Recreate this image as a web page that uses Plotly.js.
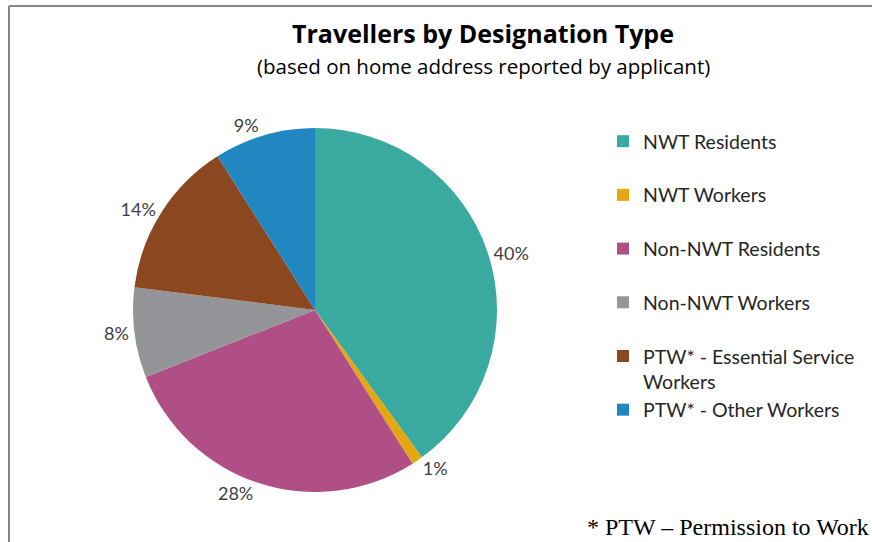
<!DOCTYPE html>
<html>
<head>
<meta charset="utf-8">
<script src="https://cdn.plot.ly/plotly-3.0.1.min.js"></script>
<style>html,body{margin:0;padding:0;background:#fff;}#chart{width:872px;height:542px;}</style>
</head>
<body>
<div id="chart"></div>
<script>
const categories = ["NWT Residents", "NWT Workers", "Non-NWT Residents", "Non-NWT Workers", "PTW* - Essential Service<br>Workers", "PTW* - Other Workers"];
const shares = [40, 1, 28, 8, 14, 9];
const colors = ["#3AA99F", "#E2A711", "#B04F86", "#939598", "#8B4720", "#2187C0"];

const legendLabels = categories.map(c => c.indexOf("<br>") >= 0 ? c : c + "<br>&nbsp;");

const W = 872, H = 542;
const cx = 315, cy = 310, r = 182;

const trace = {
  type: "pie",
  labels: legendLabels,
  values: shares,
  sort: false,
  direction: "clockwise",
  rotation: 0,
  marker: {colors: colors, line: {width: 0}},
  textinfo: "percent",
  textposition: "outside",
  texttemplate: "%{percent:.0%}",
  textfont: {family: "Lato, 'Open Sans', sans-serif", size: 18, color: "#404040"},
  domain: {x: [(cx - r) / W, (cx + r) / W], y: [(H - cy - r) / H, (H - cy + r) / H]},
  hoverinfo: "label+percent"
};

const layout = {
  width: W, height: H,
  margin: {l: 0, r: 0, t: 0, b: 0},
  paper_bgcolor: "#fff",
  showlegend: true,
  legend: {
    x: 603 / W, y: 1 - 122 / H, xanchor: "left", yanchor: "top",
    font: {family: "Lato, 'Open Sans', sans-serif", size: 19.5, color: "#262626"},
    valign: "top",
    itemclick: false
  },
  title: {
    text: "<b>Travellers by Designation Type</b>",
    font: {family: "'Open Sans', Lato, sans-serif", size: 25, color: "#000"},
    x: 483 / W, xanchor: "center", y: 1 - 34 / H, yanchor: "middle"
  },
  annotations: [
    {text: "(based on home address reported by applicant)", xref: "paper", yref: "paper",
     x: 483 / W, y: 1 - 66 / H, xanchor: "center", yanchor: "middle", showarrow: false,
     font: {family: "'Open Sans', Lato, sans-serif", size: 20.5, color: "#000"}},
    {text: "* PTW \u2013 Permission to Work", xref: "paper", yref: "paper",
     x: 871 / W, y: 1 - 527 / H, xanchor: "right", yanchor: "middle", showarrow: false,
     font: {family: "'Liberation Serif', 'DejaVu Serif', serif", size: 24, color: "#000"}}
  ],
  shapes: [
    {type: "line", xref: "paper", yref: "paper", x0: 9 / W, x1: 9 / W, y0: 0, y1: 1 - 6 / H, line: {color: "#868686", width: 2}},
    {type: "line", xref: "paper", yref: "paper", x0: 9 / W, x1: 1, y0: 1 - 6 / H, y1: 1 - 6 / H, line: {color: "#868686", width: 2}}
  ]
};

Plotly.newPlot("chart", [trace], layout, {displayModeBar: false, staticPlot: true});
</script>
</body>
</html>
